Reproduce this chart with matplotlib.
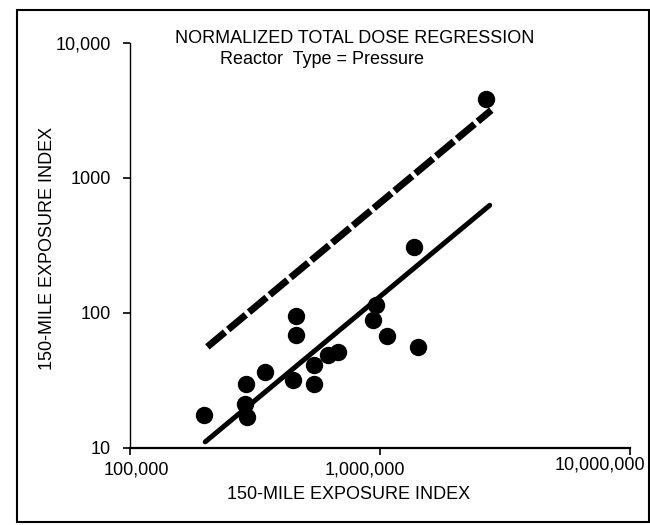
import matplotlib
matplotlib.use("Agg")
import matplotlib.pyplot as plt
from matplotlib.patches import Rectangle
from matplotlib.transforms import ScaledTranslation, blended_transform_factory

plt.rcParams['font.family'] = ['Liberation Sans', 'DejaVu Sans']

# 散布点 (150-mile exposure index vs normalized total dose)
exposure = [1.98e5, 2.91e5, 2.88e5, 2.93e5, 3.48e5, 4.49e5, 4.63e5, 4.63e5, 5.44e5,
            5.46e5, 6.17e5, 6.79e5, 9.64e5, 9.38e5, 1.07e6, 1.42e6, 1.37e6, 2.65e6]
dose = [17.5, 29.7, 21.2, 17.0, 36.4, 31.9, 94, 68, 29.7,
        41, 49, 51, 114, 89, 67, 56, 308, 3820]

# 回帰線と上側線
fit_x = [2.0e5, 2.75e6]
fit_y = [11.1, 625]
upper_x = [2.04e5, 2.79e6]
upper_y = [56, 3160]

xticks = [1e5, 1e6, 1e7]
xticklabels = ['100,000', '1,000,000', '10,000,000']
yticks = [10, 100, 1000, 10000]
yticklabels = ['10', '100', '1000', '10,000']

fig = plt.figure(figsize=(6.5, 5.25), dpi=100)
ax = fig.add_axes([0.2, 0.1467, 0.769, 0.7723])

ax.plot(upper_x, upper_y, color='black', linewidth=5, linestyle=(0, (3.3, 0.6)),
        dash_capstyle='butt', solid_capstyle='butt')
ax.plot(fit_x, fit_y, color='black', linewidth=3.6, solid_capstyle='round')
ax.plot(exposure, dose, 'o', color='black', markersize=11.5)

ax.set_xscale('log')
ax.set_yscale('log')
ax.set_xlim(1e5, 1e7)
ax.set_ylim(10, 10000)
ax.minorticks_off()

ax.set_xticks(xticks)
ax.set_xticklabels([])
ax.set_yticks(yticks)
ax.set_yticklabels(yticklabels, fontsize=13)
ax.tick_params(axis='x', direction='out', length=5, width=1.2)
ax.tick_params(axis='y', direction='out', length=5, width=1.2, pad=9)

# x目盛ラベル (スキャン原稿に合わせて少しずらす)
shifts = [6, -15, -30]
lifts = [-22, -22, -17]
trans = blended_transform_factory(ax.transData, ax.transAxes)
for xv, lab, dx, dy in zip(xticks, xticklabels, shifts, lifts):
    ax.text(xv, 0, lab, fontsize=13, ha='center', va='center', clip_on=False,
            transform=trans + ScaledTranslation(dx / 100, dy / 100, fig.dpi_scale_trans))

for side in ['top', 'right']:
    ax.spines[side].set_visible(False)
ax.spines['bottom'].set_linewidth(1.6)
ax.spines['left'].set_linewidth(1.0)

fig.text(0.545, 0.927, 'NORMALIZED TOTAL DOSE REGRESSION', fontsize=13, ha='center', va='center')
fig.text(0.495, 0.886, 'Reactor  Type = Pressure', fontsize=13, ha='center', va='center')
fig.text(0.537, 0.059, '150-MILE EXPOSURE INDEX', fontsize=13, ha='center', va='center')
fig.text(0.073, 0.526, '150-MILE EXPOSURE INDEX', fontsize=13, ha='center', va='center',
         rotation=90)

# 外枠
fig.patches.append(Rectangle((0.026, 0.006), 0.972, 0.975, transform=fig.transFigure,
                             fill=False, edgecolor='black', linewidth=1.5))

fig.savefig('out.png', dpi=100)
